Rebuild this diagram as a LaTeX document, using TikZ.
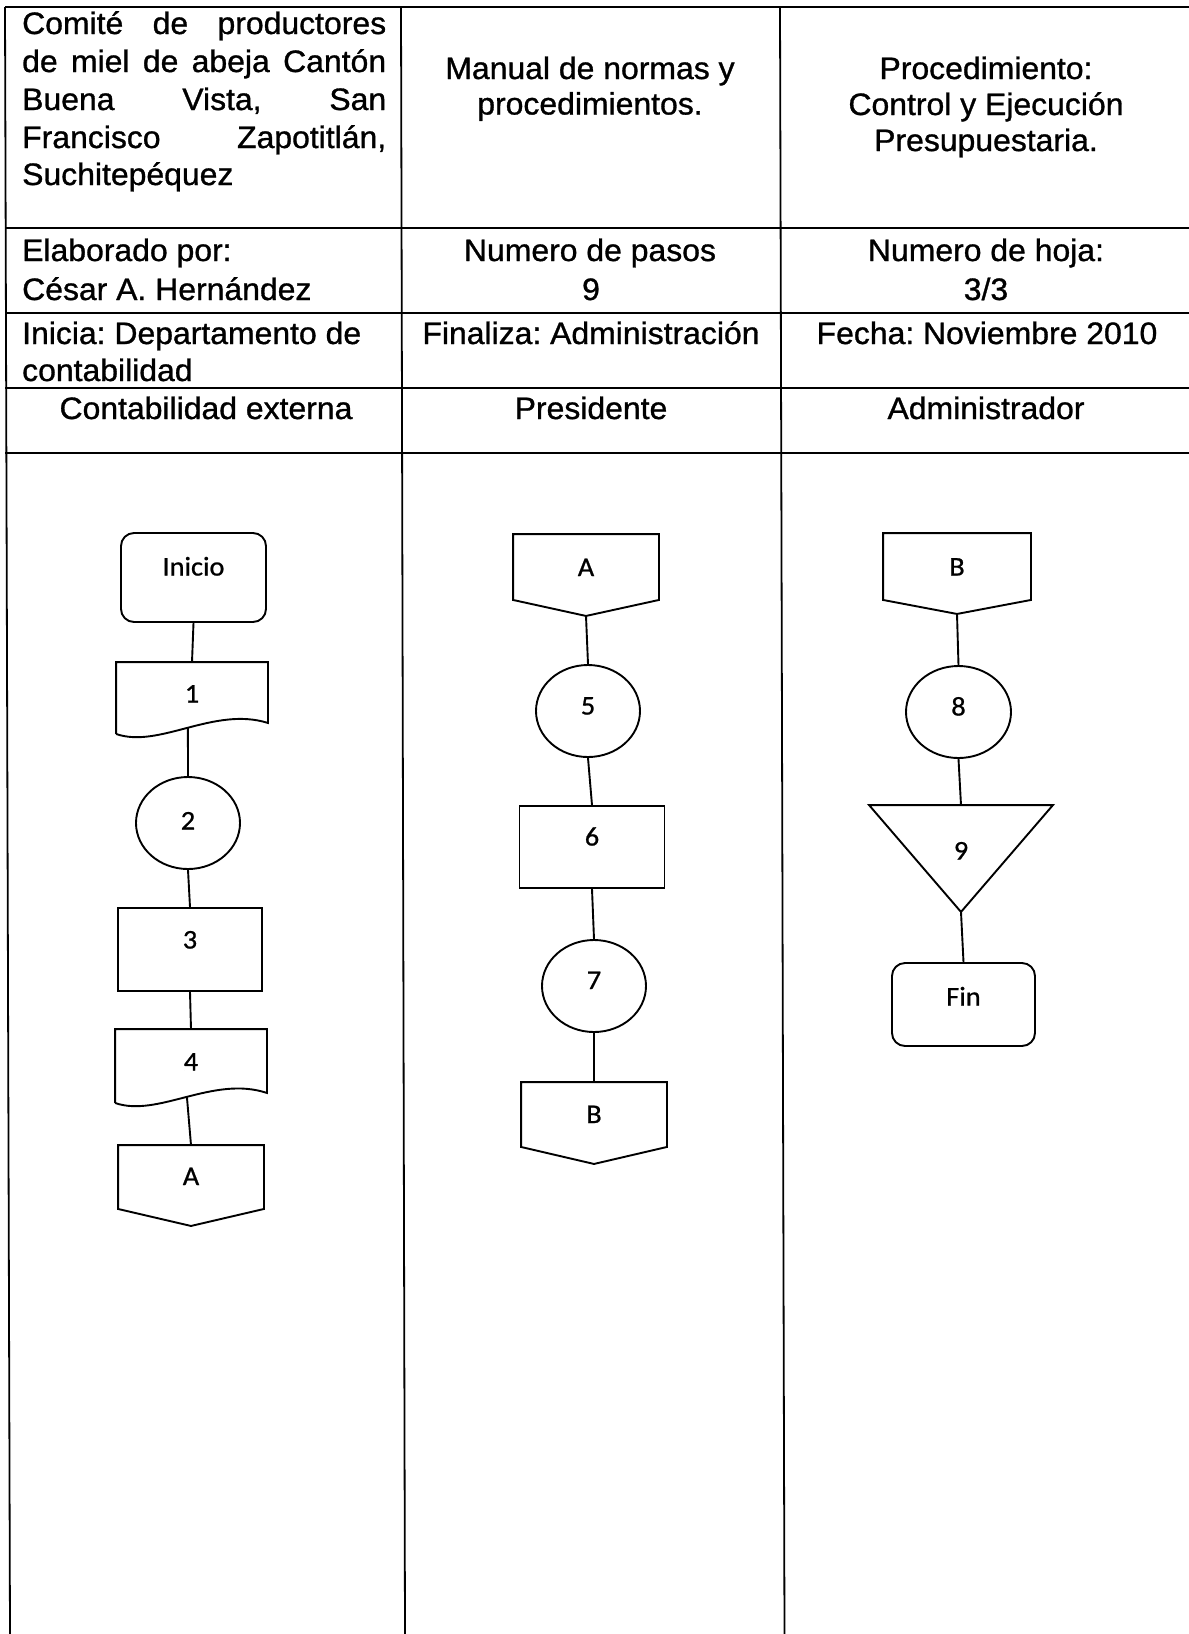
\documentclass[tikz,border=0pt]{standalone}
\usepackage{fontspec}
\setmainfont{Liberation Sans}[FakeStretch=1.03, FakeBold=1]
\newfontfamily\shapefont{Carlito}[FakeStretch=1.05, FakeBold=0.8]
\usetikzlibrary{shapes.geometric,calc}
\begin{document}
\frenchspacing
\begin{tikzpicture}[x=1pt,y=-1pt,
  hdr/.style={font=\frenchspacing\fontsize{31}{36}\selectfont, inner sep=0pt, anchor=base},
  hdrl/.style={hdr, anchor=base west},
  gridline/.style={line width=1.8pt},
  flow/.style={font=\shapefont\fontsize{27}{30}\selectfont, inner sep=0pt, text height=17pt, line width=1.9pt},
  lift/.style={text depth=#1},
  shapeline/.style={line width=1.9pt},
  conn/.style={line width=1.9pt}
]
\useasboundingbox (0,0) rectangle (1189,1634);
\fill[white] (0,0) rectangle (1189,1634);

% table grid
\draw[gridline] (5,7) -- (1189,7);
\draw[gridline] (5,228) -- (1189,228);
\draw[gridline] (5,313) -- (1189,313);
\draw[gridline] (5,388) -- (1189,388);
\draw[gridline] (5,453) -- (1189,453);
\draw[gridline] (5,7) -- (10,1634);
\draw[gridline] (401,7) -- (405,1634);
\draw[gridline] (780,7) -- (784.5,1634);

% header texts
\node[hdrl] (h1a) at (22,34) {\makebox[364pt][s]{Comité de productores}};
\node[hdrl] (h1b) at (22,72) {\makebox[364pt][s]{de miel de abeja Cantón}};
\node[hdrl] (h1c) at (22,110) {\makebox[364pt][s]{Buena Vista, San}};
\node[hdrl] (h1d) at (22,148) {\makebox[364pt][s]{Francisco Zapotitlán,}};
\node[hdrl] (h1e) at (22,185) {Suchitepéquez};

\node[hdr] (h2a) at (590,79) {Manual de normas y};
\node[hdr] (h2b) at (590,114.5) {procedimientos.};

\node[hdr] (h3a) at (986,79) {Procedimiento:};
\node[hdr] (h3b) at (986,115) {Control y Ejecución};
\node[hdr] (h3c) at (986,151) {Presupuestaria.};

\node[hdrl] (r2a) at (22,261) {Elaborado por:};
\node[hdrl] (r2b) at (22,300) {César A. Hernández};
\node[hdr] (r2c) at (590,261) {Numero de pasos};
\node[hdr] (r2d) at (591,300) {9};
\node[hdr] (r2e) at (986,261) {Numero de hoja:};
\node[hdr] (r2f) at (986,300) {3/3};

\node[hdrl] (r3a) at (22,344) {Inicia: Departamento de};
\node[hdrl] (r3b) at (22,381) {contabilidad};
\node[hdr] (r3c) at (591,344) {Finaliza: Administración};
\node[hdr] (r3d) at (987,344) {Fecha: Noviembre 2010};

\node[hdr] (r4a) at (206,419) {Contabilidad externa};
\node[hdr] (r4b) at (591,419) {Presidente};
\node[hdr] (r4c) at (986,419) {Administrador};

% ---------- column 1
\node[flow, draw, rounded corners=13pt, minimum width=145pt, minimum height=89pt, lift=21pt] (ini) at (193.5,577.5) {Inicio};

\node[flow, minimum width=150pt, minimum height=70pt, lift=8pt] (d1) at (192,698) {1};
\draw[shapeline] (d1.south west) -- (d1.north west) -- (d1.north east) -- ($(d1.south east)+(0,-11)$)
  .. controls ($(d1.south west)+(98,-28)$) and ($(d1.south west)+(43,15)$) .. (d1.south west)
  node[coordinate, pos=0.5] (d1b) {};

\node[flow, draw, ellipse, minimum width=104pt, minimum height=92pt, lift=4pt] (c2) at (188,823) {2};

\node[flow, draw, minimum width=144pt, minimum height=83pt, lift=19pt] (r3) at (190,949.5) {3};

\node[flow, minimum width=150pt, minimum height=72pt, lift=8pt] (d4) at (191,1066) {4};
\draw[shapeline] (d4.south west) -- (d4.north west) -- (d4.north east) -- ($(d4.south east)+(0,-10)$)
  .. controls ($(d4.south west)+(98,-28)$) and ($(d4.south west)+(43,15)$) .. (d4.south west)
  node[coordinate, pos=0.5] (d4b) {};

\node[flow, minimum width=144pt, minimum height=79pt, lift=18pt] (oA1) at (191,1185.5) {A};
\draw[shapeline] (oA1.north west) -- (oA1.north east) -- ($(oA1.south east)+(0,-17)$) -- (oA1.south) -- ($(oA1.south west)+(0,-17)$) -- cycle;

\draw[conn] (ini.south) -- (d1.north);
\draw[conn] (d1b) -- (c2.north);
\draw[conn] (c2.south) -- (r3.north);
\draw[conn] (r3.south) -- (d4.north);
\draw[conn] (d4b) -- (oA1.north);

% ---------- column 2
\node[flow, minimum width=144pt, minimum height=80pt, lift=15pt] (oA2) at (586,575) {A};
\draw[shapeline] (oA2.north west) -- (oA2.north east) -- ($(oA2.south east)+(0,-16)$) -- (oA2.south) -- ($(oA2.south west)+(0,-16)$) -- cycle;

\node[flow, draw, ellipse, minimum width=104pt, minimum height=92pt, lift=10pt] (c5) at (588,711) {5};

\node[flow, draw, minimum width=145pt, minimum height=82pt, lift=20pt] (r6) at (592,847) {6};

\node[flow, draw, ellipse, minimum width=104pt, minimum height=92pt, lift=11pt] (c7) at (594,986) {7};

\node[flow, minimum width=144pt, minimum height=80pt, lift=17pt] (oB2) at (594,1123) {B};
\draw[shapeline] (oB2.north west) -- (oB2.north east) -- ($(oB2.south east)+(0,-17)$) -- (oB2.south) -- ($(oB2.south west)+(0,-17)$) -- cycle;

\draw[conn] (oA2.south) -- (c5.north);
\draw[conn] (c5.south) -- (r6.north);
\draw[conn] (r6.south) -- (c7.north);
\draw[conn] (c7.south) -- (oB2.north);

% ---------- column 3
\node[flow, minimum width=146pt, minimum height=79pt, lift=13pt] (oB3) at (957,573.5) {B};
\draw[shapeline] (oB3.north west) -- (oB3.north east) -- ($(oB3.south east)+(0,-14)$) -- (oB3.south) -- ($(oB3.south west)+(0,-14)$) -- cycle;

\node[flow, draw, ellipse, minimum width=105pt, minimum height=92pt, lift=10pt] (c8) at (958.5,712) {8};

\node[flow, minimum width=182pt, minimum height=105pt, lift=15pt] (t9) at (961,858.5) {9};
\draw[shapeline] (t9.north west) -- (t9.north east) -- (t9.south) -- cycle;

\node[flow, draw, rounded corners=13pt, minimum width=143pt, minimum height=83pt, lift=15pt] (fin) at (963.5,1004.5) {Fin};

\draw[conn] (oB3.south) -- (c8.north);
\draw[conn] (c8.south) -- (t9.north);
\draw[conn] (t9.south) -- (fin.north);
\end{tikzpicture}
\end{document}
